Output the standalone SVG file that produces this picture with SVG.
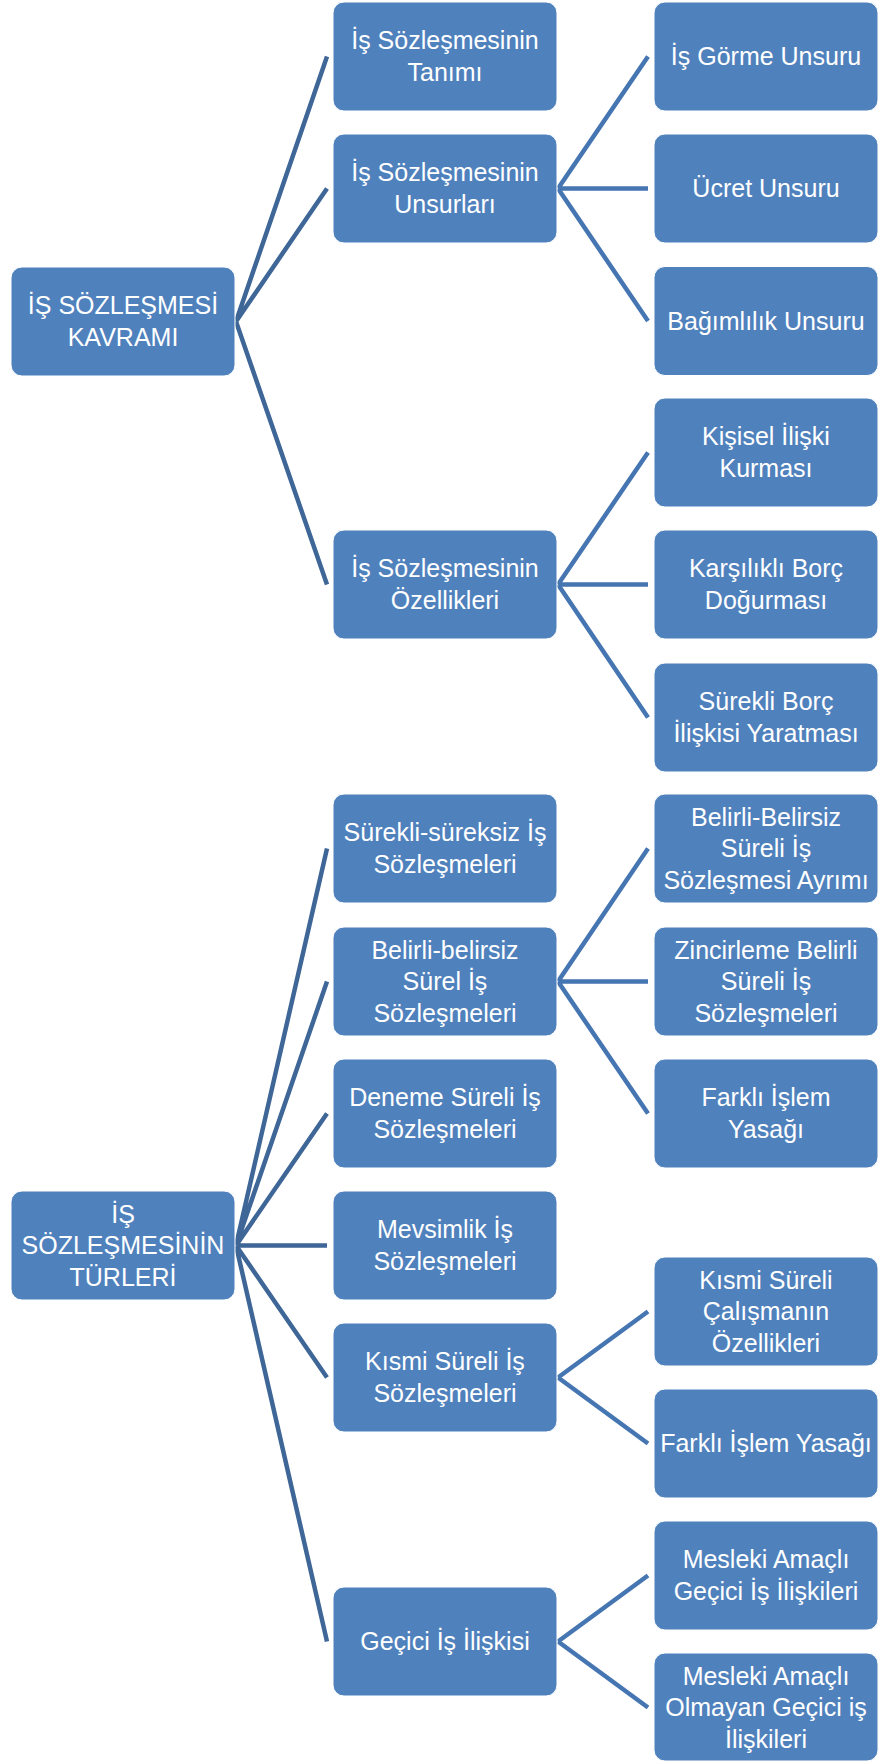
<svg xmlns="http://www.w3.org/2000/svg" width="880" height="1762" viewBox="0 0 880 1762">
<style>
.box{fill:#4F81BD;stroke:#FFFFFF;stroke-width:1}
.t{font-family:"Liberation Sans",Arial,sans-serif;font-size:25px;fill:#FFFFFF;text-anchor:middle}
.c0{stroke:#3E6697;stroke-width:4.5;fill:none;stroke-linecap:butt}
.c1{stroke:#4676B2;stroke-width:4.5;fill:none;stroke-linecap:butt}
</style>
<rect width="880" height="1762" fill="#FFFFFF"/>
<g id="connectors">
<path class="c0" d="M236 321.5L327 56.5M236 321.5L327 188.5M236 321.5L327 584.5"/>
<path class="c1" d="M558 188.5L648 56.5M558 188.5L648 188.5M558 188.5L648 321"/>
<path class="c1" d="M558 584.5L648 452.5M558 584.5L648 584.5M558 584.5L648 717.5"/>
<path class="c0" d="M236 1245.5L327 848.5M236 1245.5L327 981.5M236 1245.5L327 1113.5M236 1245.5L327 1245.5M236 1245.5L327 1377.5M236 1245.5L327 1641.5"/>
<path class="c1" d="M558 981.5L648 848.5M558 981.5L648 981.5M558 981.5L648 1113.5"/>
<path class="c1" d="M558 1377.5L648 1311.5M558 1377.5L648 1443.5"/>
<path class="c1" d="M558 1641.5L648 1575.5M558 1641.5L648 1707.5"/>
</g>
<g id="root1"><rect class="box" x="11" y="267" width="224" height="109" rx="11"/><text class="t" x="123" y="314.3">İŞ SÖZLEŞMESİ</text><text class="t" x="123" y="345.8">KAVRAMI</text></g>
<g id="n_tanim"><rect class="box" x="333" y="2" width="224" height="109" rx="11"/><text class="t" x="445" y="49.3">İş Sözleşmesinin</text><text class="t" x="445" y="80.8">Tanımı</text></g>
<g id="n_unsur"><rect class="box" x="333" y="134" width="224" height="109" rx="11"/><text class="t" x="445" y="181.3">İş Sözleşmesinin</text><text class="t" x="445" y="212.8">Unsurları</text></g>
<g id="n_gorme"><rect class="box" x="654" y="2" width="224" height="109" rx="11"/><text class="t" x="766" y="65">İş Görme Unsuru</text></g>
<g id="n_ucret"><rect class="box" x="654" y="134" width="224" height="109" rx="11"/><text class="t" x="766" y="197">Ücret Unsuru</text></g>
<g id="n_bagim"><rect class="box" x="654" y="266.5" width="224" height="109" rx="11"/><text class="t" x="766" y="329.5">Bağımlılık Unsuru</text></g>
<g id="n_ozel"><rect class="box" x="333" y="530" width="224" height="109" rx="11"/><text class="t" x="445" y="577.3">İş Sözleşmesinin</text><text class="t" x="445" y="608.8">Özellikleri</text></g>
<g id="n_kisisel"><rect class="box" x="654" y="398" width="224" height="109" rx="11"/><text class="t" x="766" y="445.3">Kişisel İlişki</text><text class="t" x="766" y="476.8">Kurması</text></g>
<g id="n_karsi"><rect class="box" x="654" y="530" width="224" height="109" rx="11"/><text class="t" x="766" y="577.3">Karşılıklı Borç</text><text class="t" x="766" y="608.8">Doğurması</text></g>
<g id="n_surekliborc"><rect class="box" x="654" y="663" width="224" height="109" rx="11"/><text class="t" x="766" y="710.3">Sürekli Borç</text><text class="t" x="766" y="741.8">İlişkisi Yaratması</text></g>
<g id="root2"><rect class="box" x="11" y="1191" width="224" height="109" rx="11"/><text class="t" x="123" y="1222.5">İŞ</text><text class="t" x="123" y="1254">SÖZLEŞMESİNİN</text><text class="t" x="123" y="1285.5">TÜRLERİ</text></g>
<g id="n_sureksiz"><rect class="box" x="333" y="794" width="224" height="109" rx="11"/><text class="t" x="445" y="841.3">Sürekli-süreksiz İş</text><text class="t" x="445" y="872.8">Sözleşmeleri</text></g>
<g id="n_belirli"><rect class="box" x="333" y="927" width="224" height="109" rx="11"/><text class="t" x="445" y="958.5">Belirli-belirsiz</text><text class="t" x="445" y="990">Sürel İş</text><text class="t" x="445" y="1021.5">Sözleşmeleri</text></g>
<g id="n_deneme"><rect class="box" x="333" y="1059" width="224" height="109" rx="11"/><text class="t" x="445" y="1106.3">Deneme Süreli İş</text><text class="t" x="445" y="1137.8">Sözleşmeleri</text></g>
<g id="n_mevsim"><rect class="box" x="333" y="1191" width="224" height="109" rx="11"/><text class="t" x="445" y="1238.3">Mevsimlik İş</text><text class="t" x="445" y="1269.8">Sözleşmeleri</text></g>
<g id="n_kismi"><rect class="box" x="333" y="1323" width="224" height="109" rx="11"/><text class="t" x="445" y="1370.3">Kısmi Süreli İş</text><text class="t" x="445" y="1401.8">Sözleşmeleri</text></g>
<g id="n_gecici"><rect class="box" x="333" y="1587" width="224" height="109" rx="11"/><text class="t" x="445" y="1650">Geçici İş İlişkisi</text></g>
<g id="n_bb"><rect class="box" x="654" y="794" width="224" height="109" rx="11"/><text class="t" x="766" y="825.5">Belirli-Belirsiz</text><text class="t" x="766" y="857">Süreli İş</text><text class="t" x="766" y="888.5">Sözleşmesi Ayrımı</text></g>
<g id="n_zincir"><rect class="box" x="654" y="927" width="224" height="109" rx="11"/><text class="t" x="766" y="958.5">Zincirleme Belirli</text><text class="t" x="766" y="990">Süreli İş</text><text class="t" x="766" y="1021.5">Sözleşmeleri</text></g>
<g id="n_farkli1"><rect class="box" x="654" y="1059" width="224" height="109" rx="11"/><text class="t" x="766" y="1106.3">Farklı İşlem</text><text class="t" x="766" y="1137.8">Yasağı</text></g>
<g id="n_kozel"><rect class="box" x="654" y="1257" width="224" height="109" rx="11"/><text class="t" x="766" y="1288.5">Kısmi Süreli</text><text class="t" x="766" y="1320">Çalışmanın</text><text class="t" x="766" y="1351.5">Özellikleri</text></g>
<g id="n_farkli2"><rect class="box" x="654" y="1389" width="224" height="109" rx="11"/><text class="t" x="766" y="1452">Farklı İşlem Yasağı</text></g>
<g id="n_mesleki"><rect class="box" x="654" y="1521" width="224" height="109" rx="11"/><text class="t" x="766" y="1568.3">Mesleki Amaçlı</text><text class="t" x="766" y="1599.8">Geçici İş İlişkileri</text></g>
<g id="n_olmayan"><rect class="box" x="654" y="1653" width="224" height="108" rx="11"/><text class="t" x="766" y="1684.5">Mesleki Amaçlı</text><text class="t" x="766" y="1716">Olmayan Geçici iş</text><text class="t" x="766" y="1747.5">İlişkileri</text></g>
</svg>
